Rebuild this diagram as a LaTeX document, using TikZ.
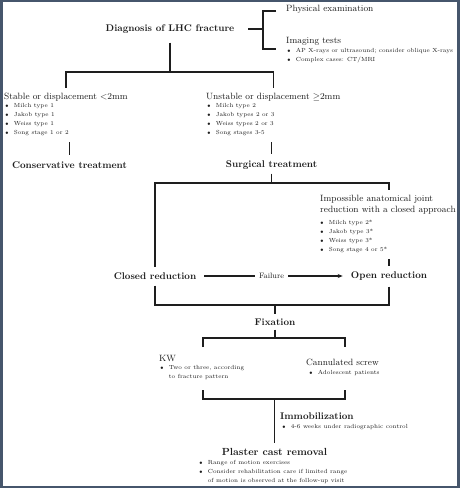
\documentclass[tikz,border=0pt]{standalone}
\usepackage{amsmath, amssymb}
\usepackage{xcolor}
\usepackage{tikz}
\usetikzlibrary{arrows.meta,positioning}

\definecolor{framecol}{HTML}{46566C}
\definecolor{txtcol}{HTML}{1E1E1E}

\newcommand{\blist}[1]{\begin{tabular}{@{\hspace{2pt}}l@{\hspace{5pt}}l@{}}#1\end{tabular}}
\newcommand{\bl}{$\scriptscriptstyle\bullet$}

\tikzset{
	head/.style={font=\fontsize{9.7}{12}\selectfont\bfseries, inner sep=1pt, text=txtcol},
	sub/.style={font=\fontsize{9.1}{11}\selectfont, inner sep=1pt, text=txtcol},
	items/.style={font=\fontsize{5.9}{9}\selectfont, inner sep=0pt, anchor=north west, text=txtcol},
	link/.style={line width=1.3pt, draw=txtcol}
}

\begin{document}
\begin{tikzpicture}[x=1pt,y=-1pt]
		\fill[framecol] (0,0) rectangle (460,488);
		\fill[white] (2.5,1.5) rectangle (456.5,486);
		%
		\node[head] (diag) at (170,29) {Diagnosis of LHC fracture};
		\node[sub,anchor=west] (phys) at (285,9) {Physical examination};
		\node[sub,anchor=west] (imag) at (285,41) {Imaging tests};
		\node[items] (imaglist) at (285,46) {\blist{\bl & AP X-rays or ultrasound; consider oblique X-rays\\ \bl & Complex cases: CT/MRI}};
		%
		\node[sub,anchor=west] (stable) at (3,97) {Stable or displacement $<$2mm};
		\node[items] (stablelist) at (3,101) {\blist{\bl & Milch type 1\\ \bl & Jakob type 1\\ \bl & Weiss type 1\\ \bl & Song stage 1 or 2}};
		\node[sub,anchor=west] (unstable) at (205,97) {Unstable or displacement $\geq$2mm};
		\node[items] (unstablelist) at (205,101) {\blist{\bl & Milch type 2\\ \bl & Jakob types 2 or 3\\ \bl & Weiss types 2 or 3\\ \bl & Song stages 3-5}};
		%
		\node[head] (cons) at (69.5,165) {Conservative treatment};
		\node[head] (surg) at (271.5,165) {Surgical treatment};
		%
		\node[sub,anchor=north west,align=left] (imposs) at (319,194) {Impossible anatomical joint\\reduction with a closed approach};
		\node[items] (imposslist) at (318,218) {\blist{\bl & Milch type 2*\\ \bl & Jakob type 3*\\ \bl & Weiss type 3*\\ \bl & Song stage 4 or 5*}};
		%
		\node[head] (closed) at (155,276) {Closed reduction};
		\node[sub,font=\fontsize{7.8}{10}\selectfont] (fail) at (271.5,276) {Failure};
		\node[head] (open) at (389,276) {Open reduction};
		\node[head] (fix) at (275,322) {Fixation};
		%
		\node[sub,anchor=west] (kw) at (158,358) {KW};
		\node[items,align=left] (kwlist) at (158,363) {\blist{\bl & Two or three, according\\ & to fracture pattern}};
		\node[sub,anchor=west] (screw) at (305,362) {Cannulated screw};
		\node[items] (screwlist) at (307,368) {\blist{\bl & Adolescent patients}};
		%
		\node[head,anchor=west] (immob) at (279,416) {Immobilization};
		\node[items] (immoblist) at (280,422) {\blist{\bl & 4-6 weeks under radiographic control}};
		\node[head,font=\fontsize{10.3}{12}\selectfont\bfseries] (plaster) at (274.5,452) {Plaster cast removal};
		\node[items] (plasterlist) at (197,458) {\blist{\bl & Range of motion exercises\\ \bl & Consider rehabilitation care if limited range\\ & of motion is observed at the follow-up visit}};
		%
		\coordinate (b0) at (263,29);
		\coordinate (b1) at (276,11);
		\coordinate (b2) at (276,49);
		\coordinate (d0) at (170,72);
		\coordinate (s0) at (271.5,183);
		\coordinate (r0) at (275,305);
		\coordinate (f0) at (275,338);
		\coordinate (k0) at (274.5,399);
		\coordinate (kwt) at (203,347);
		\coordinate (sct) at (345,347);
		\coordinate (kwb) at (203,390);
		\coordinate (scb) at (345,390);
		%
		\draw[link,shorten <=13pt] (diag.east) -- (b0);
		\draw[link] (b1) -| (b0) |- (b2);
		\draw[link,shorten <=8pt] (diag.south) -- (d0);
		\draw[link,shorten >=4pt] (d0) -| (stable.north -| stable.center);
		\draw[link,shorten >=4pt] (d0) -| (unstable.north -| unstable.center);
		\draw[link,shorten <=5pt,shorten >=5pt] (stablelist.south -| cons) -- (cons.north);
		\draw[link,shorten <=5pt,shorten >=5pt] (unstablelist.south -| surg) -- (surg.north);
		\draw[link,shorten <=3pt] (surg.south) -- (s0);
		\draw[link,shorten >=4pt] (s0) -| (imposs.north -| open);
		\draw[link,shorten >=4pt] (s0) -| (closed.north);
		\draw[link,shorten <=5pt,shorten >=4pt] (imposslist.south -| open) -- (open.north);
		\draw[link,shorten <=7pt,shorten >=3pt] (closed.east) -- (fail.west);
		\draw[link,-{Stealth[length=5pt,width=4pt]},shorten <=3pt,shorten >=7pt] (fail.east) -- (open.west);
		\draw[link,shorten <=5pt] (closed.south) |- (r0);
		\draw[link,shorten <=5pt] (open.south) |- (r0);
		\draw[link,shorten >=3pt] (r0) -- (fix.north);
		\draw[link,shorten <=3pt] (fix.south) -- (f0);
		\draw[link] (kwt) |- (f0) -| (sct);
		\draw[link] (kwb) |- (k0) -| (scb);
		\draw[link,shorten >=4pt] (k0) -- (plaster.north);
	\end{tikzpicture}
\end{document}
